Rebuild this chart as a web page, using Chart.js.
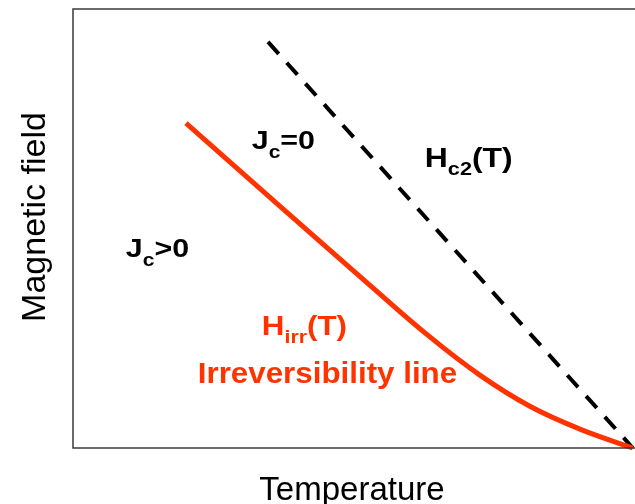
<!DOCTYPE html>
<html>
<head>
<meta charset="utf-8">
<script src="https://cdn.jsdelivr.net/npm/chart.js@4/dist/chart.umd.min.js"></script>
<style>
html,body{margin:0;padding:0;background:#fff;overflow:hidden;}
#wrap{width:635px;height:504px;position:relative;}
</style>
</head>
<body>
<div id="wrap"><canvas id="c" width="635" height="504"></canvas></div>
<script>
// Irreversibility line H_irr(T) (arbitrary units)
const irrT = [20.1, 36.8, 52.8, 63.5, 72.4, 81.3, 90.2, 99.6];
const irrH = [74.0, 55.1, 37.1, 25.3, 16.6, 9.5, 4.3, 0.0];
// Upper critical field H_c2(T)
const hc2T = [34.7, 99.6];
const hc2H = [92.5, 0.0];

const xTitle = "Temperature";
const yTitle = "Magnetic field";

const RED = "rgb(255,51,0)";
const FONT = "'Liberation Sans', Arial, sans-serif";

function pts(xs, ys){ return xs.map((x,i)=>({x:x, y:ys[i]})); }

function drawSub(ctx, x, y, parts, color, sx){
  // parts: [text, size, dy]
  ctx.save();
  ctx.translate(x, y);
  ctx.scale(sx, 1);
  ctx.fillStyle = color;
  ctx.textBaseline = 'alphabetic';
  ctx.textAlign = 'left';
  let cx = 0;
  for (const [t, size, dy] of parts){
    ctx.font = "bold " + size + "px " + FONT;
    ctx.fillText(t, cx, dy);
    cx += ctx.measureText(t).width;
  }
  ctx.restore();
}

const decor = {
  id: 'decor',
  afterDatasetsDraw(chart){
    const ctx = chart.ctx, a = chart.chartArea;
    const xs = chart.scales.x, ys = chart.scales.y;
    ctx.save();
    // frame: left, top, bottom
    ctx.strokeStyle = '#3a3a3a';
    ctx.lineWidth = 1.5;
    ctx.beginPath();
    ctx.moveTo(chart.width, a.top); ctx.lineTo(a.left, a.top);
    ctx.lineTo(a.left, a.bottom); ctx.lineTo(chart.width, a.bottom);
    ctx.stroke();
    // axis titles
    ctx.fillStyle = '#000';
    ctx.font = "33px " + FONT;
    ctx.textAlign = 'center';
    ctx.textBaseline = 'alphabetic';
    ctx.fillText(xTitle, 352, 500);
    ctx.save();
    ctx.translate(45, 217);
    ctx.rotate(-Math.PI/2);
    ctx.font = "34px " + FONT;
    ctx.fillText(yTitle, 0, 0);
    ctx.restore();
    // annotations placed in data units
    const P = (tx, hy) => [xs.getPixelForValue(tx), ys.getPixelForValue(hy)];
    let p;
    p = P(31.8, 68.1);
    drawSub(ctx, p[0], p[1], [["J",26,0],["c",18,9],["=0",26,0]], '#000', 1.17);
    p = P(9.4, 43.5);
    drawSub(ctx, p[0], p[1], [["J",26,0],["c",18,9],[">0",26,0]], '#000', 1.17);
    p = P(62.6, 64.0);
    drawSub(ctx, p[0], p[1], [["H",28,0],["c2",19,8],["(T)",28,0]], '#000', 1.14);
    p = P(33.6, 25.8);
    drawSub(ctx, p[0], p[1], [["H",28,0],["irr",19,8],["(T)",28,0]], RED, 1.12);
    p = P(22.2, 14.8);
    drawSub(ctx, p[0], p[1], [["Irreversibility line",29,0]], RED, 1.08);
    ctx.restore();
  }
};

new Chart(document.getElementById('c'), {
  type: 'scatter',
  data: {
    datasets: [
      {
        label: 'H_irr(T)',
        data: pts(irrT, irrH),
        showLine: true,
        borderColor: RED,
        borderWidth: 5,
        pointRadius: 0,
        tension: 0.4,
        borderCapStyle: 'butt',
        clip: false
      },
      {
        label: 'H_c2(T)',
        data: pts(hc2T, hc2H),
        showLine: true,
        borderColor: '#000',
        borderWidth: 4,
        borderDash: [16, 12],
        pointRadius: 0,
        clip: false
      }
    ]
  },
  options: {
    responsive: false,
    animation: false,
    layout: { padding: { left: 73, top: 9, right: 0, bottom: 56 } },
    plugins: { legend: { display: false }, tooltip: { enabled: false } },
    scales: {
      x: { type: 'linear', min: 0, max: 100, display: false },
      y: { type: 'linear', min: 0, max: 100, display: false }
    }
  },
  plugins: [decor]
});
</script>
</body>
</html>
